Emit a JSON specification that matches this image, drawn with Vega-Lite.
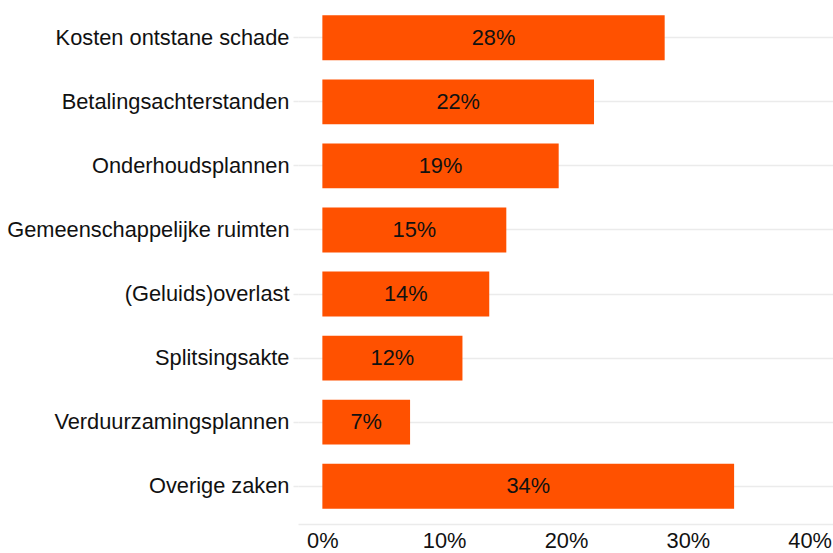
{
  "$schema": "https://vega.github.io/schema/vega-lite/v6.json",
  "width": 536,
  "height": 524,
  "autosize": {"type": "none"},
  "padding": {"left": 298, "top": 0, "right": 0, "bottom": 29},
  "background": "white",
  "config": {
    "view": {"stroke": null},
    "font": "Liberation Sans"
  },
  "data": {
    "values": [
      {"category": "Kosten ontstane schade", "value": 28.1, "label": "28%"},
      {"category": "Betalingsachterstanden", "value": 22.3, "label": "22%"},
      {"category": "Onderhoudsplannen", "value": 19.4, "label": "19%"},
      {"category": "Gemeenschappelijke ruimten", "value": 15.1, "label": "15%"},
      {"category": "(Geluids)overlast", "value": 13.7, "label": "14%"},
      {"category": "Splitsingsakte", "value": 11.5, "label": "12%"},
      {"category": "Verduurzamingsplannen", "value": 7.2, "label": "7%"},
      {"category": "Overige zaken", "value": 33.8, "label": "34%"}
    ]
  },
  "encoding": {
    "y": {
      "field": "category",
      "type": "nominal",
      "sort": null,
      "scale": {"paddingInner": 0.3, "paddingOuter": 0.24},
      "axis": {
        "title": null,
        "grid": true,
        "gridColor": "#ebebeb",
        "gridWidth": 1.5,
        "ticks": true,
        "tickColor": "#ebebeb",
        "tickWidth": 1.5,
        "tickSize": 5,
        "domain": false,
        "labelPadding": 4,
        "labelFontSize": 21.8,
        "labelLimit": 0,
        "labelColor": "#111111",
        "labelFont": "Liberation Sans"
      }
    }
  },
  "layer": [
    {
      "mark": {"type": "bar", "color": "#ff5100"},
      "encoding": {
        "x": {
          "field": "value",
          "type": "quantitative",
          "scale": {"domain": [-2, 42], "nice": false, "zero": false},
          "axis": {
            "title": null,
            "values": [0, 10, 20, 30, 40],
            "labelExpr": "datum.value + '%'",
            "grid": false,
            "ticks": false,
            "domain": true,
            "domainColor": "#ebebeb",
            "domainWidth": 1.5,
            "labelPadding": 6,
            "labelFontSize": 21.8,
            "labelColor": "#111111",
            "labelFont": "Liberation Sans",
            "labelFlush": false
          }
        },
        "x2": {"datum": 0}
      }
    },
    {
      "transform": [{"calculate": "datum.value / 2", "as": "mid"}],
      "mark": {"type": "text", "fontSize": 21.8, "color": "#111111", "font": "Liberation Sans", "baseline": "middle", "align": "center"},
      "encoding": {
        "x": {"field": "mid", "type": "quantitative"},
        "text": {"field": "label"}
      }
    }
  ]
}
